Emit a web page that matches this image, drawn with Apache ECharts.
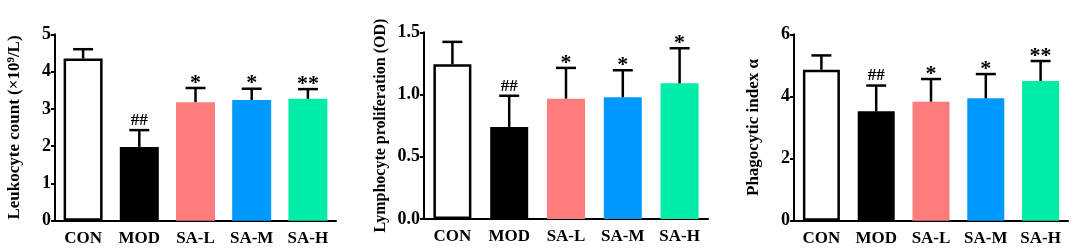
<!DOCTYPE html>
<html><head><meta charset="utf-8">
<script src="https://cdn.jsdelivr.net/npm/echarts@6/dist/echarts.min.js"></script>
<style>html,body{margin:0;padding:0;background:#fff}#c{width:1079px;height:248px}</style>
</head><body><div id="c"></div>
<script>
const categories = ['CON', 'MOD', 'SA-L', 'SA-M', 'SA-H'];
const leukocyteMean = [4.35, 1.98, 3.18, 3.24, 3.27];
const leukocyteUpper = [4.60, 2.43, 3.56, 3.54, 3.53];
const lymphoMean = [1.243, 0.74, 0.967, 0.978, 1.09];
const lymphoUpper = [1.423, 0.99, 1.214, 1.195, 1.372];
const phagoMean = [4.86, 3.52, 3.83, 3.94, 4.50];
const phagoUpper = [5.32, 4.35, 4.56, 4.72, 5.14];
const leukocyteMarks = ['', '##', '*', '*', '**'];
const lymphoMarks = ['', '##', '*', '*', '*'];
const phagoMarks = ['', '##', '*', '*', '**'];
const leukocyteTicks = [0, 1, 2, 3, 4, 5];
const lymphoTicks = ['0.0', '0.5', '1.0', '1.5'];
const phagoTicks = [0, 2, 4, 6];

const colors = ['#ffffff', '#000000', '#ff7c7c', '#0099ff', '#00eda8'];
const FONT = '"Liberation Serif", "Times New Roman", serif';

const grids = [
  {left: 55, top: 34.3, width: 281, height: 186.4},
  {left: 424, top: 32.3, width: 284, height: 186.7},
  {left: 794, top: 34.3, width: 274, height: 186.4}
];

function xAxis(i) {
  return {
    type: 'category', gridIndex: i, data: categories,
    axisLine: {lineStyle: {color: '#000', width: 2}},
    axisTick: {alignWithLabel: true, length: 4, lineStyle: {color: '#000', width: 2}},
    axisLabel: {interval: 0, hideOverlap: false, color: '#000', fontFamily: FONT, fontWeight: 'bold', fontSize: 17, margin: 9}
  };
}
function yAxis(i, max, interval, name, nameGap, nameSize, fmt) {
  return {
    type: 'value', gridIndex: i, min: 0, max: max, interval: interval,
    name: name, nameLocation: 'middle', nameGap: nameGap,
    nameTextStyle: {color: '#000', fontFamily: FONT, fontWeight: 'bold', fontSize: nameSize,
      rich: {sup: {fontFamily: FONT, fontWeight: 'bold', fontSize: 11, verticalAlign: 'top', padding: [0,0,7,0]}}},
    splitLine: {show: false},
    axisLine: {show: true, lineStyle: {color: '#000', width: 2}},
    axisTick: {show: true, length: 4, lineStyle: {color: '#000', width: 2}},
    axisLabel: {color: '#000', fontFamily: FONT, fontWeight: 'bold', fontSize: 18, margin: 4, formatter: fmt}
  };
}
function barSeries(i, vals, bw) {
  return {
    type: 'bar', xAxisIndex: i, yAxisIndex: i, barWidth: bw,
    data: vals.map((v, k) => ({value: v, itemStyle: k === 0 ?
      {color: '#fff', borderColor: '#000', borderWidth: 2.5} : {color: colors[k]}})),
    z: 2
  };
}
function errSeries(i, means, uppers, marks) {
  return {
    type: 'custom', xAxisIndex: i, yAxisIndex: i, z: 3,
    data: means.map((m, k) => [k, m, uppers[k]]),
    renderItem: function (params, api) {
      const k = api.value(0);
      const p0 = api.coord([k, api.value(1)]);
      const p1 = api.coord([k, api.value(2)]);
      const mk = marks[k];
      const children = [
        {type: 'line', shape: {x1: p0[0], y1: p0[1], x2: p1[0], y2: p1[1]}, style: {stroke: '#000', lineWidth: 2.5}},
        {type: 'line', shape: {x1: p1[0] - 10, y1: p1[1], x2: p1[0] + 10, y2: p1[1]}, style: {stroke: '#000', lineWidth: 2.5}}
      ];
      if (mk) {
        const isHash = mk[0] === '#';
        children.push({type: 'text', x: p1[0], y: isHash ? p1[1] - 1 : p1[1] + 6,
          style: {text: mk, fill: '#000', font: 'bold ' + (isHash ? 17 : 22) + 'px ' + FONT,
            textAlign: 'center', textVerticalAlign: 'bottom'}});
      }
      return {type: 'group', children: children};
    }
  };
}

const chart = echarts.init(document.getElementById('c'), null, {renderer: 'canvas'});
chart.setOption({
  animation: false,
  backgroundColor: '#fff',
  grid: grids,
  xAxis: [xAxis(0), xAxis(1), xAxis(2)],
  yAxis: [
    yAxis(0, 5, 1, 'Leukocyte count (×10{sup|9}/L)', 31, 17, v => String(v)),
    yAxis(1, 1.5, 0.5, 'Lymphocyte proliferation (OD)', 35, 16, v => lymphoTicks[Math.round(v / 0.5)]),
    yAxis(2, 6, 2, 'Phagocytic index α', 32, 17, v => String(v))
  ],
  series: [
    barSeries(0, leukocyteMean, 39), errSeries(0, leukocyteMean, leukocyteUpper, leukocyteMarks),
    barSeries(1, lymphoMean, 38), errSeries(1, lymphoMean, lymphoUpper, lymphoMarks),
    barSeries(2, phagoMean, 37), errSeries(2, phagoMean, phagoUpper, phagoMarks)
  ]
});
</script></body></html>
